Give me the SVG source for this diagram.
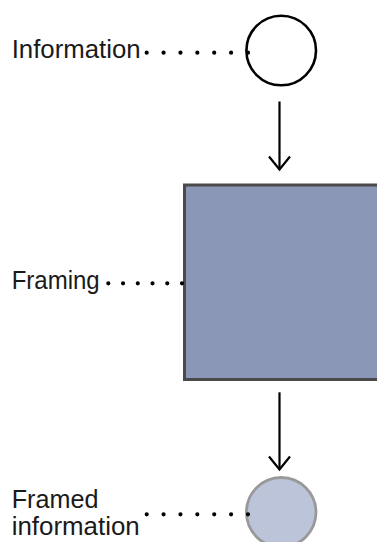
<svg xmlns="http://www.w3.org/2000/svg" width="377" height="542" viewBox="0 0 377 542">
  <style>
    .label { font-family: "Liberation Sans", Arial, sans-serif; font-size: 25px; fill: #1a1a1a; }
    .leader { fill: none; stroke: #000; stroke-width: 4.2; stroke-linecap: round; }
    .flow { fill: none; stroke: #000; stroke-width: 2.2; }
  </style>
  <defs>
    <marker id="vhead" markerUnits="userSpaceOnUse" markerWidth="30" markerHeight="30" refX="0" refY="0" viewBox="-15 -15 30 30" orient="auto" overflow="visible">
      <path d="M-13,-10.5 L0,0 L-13,10.5" fill="none" stroke="#000" stroke-width="2.2" stroke-linejoin="miter"/>
    </marker>
  </defs>

  <rect width="377" height="542" fill="#fff"/>

  <g id="information">
    <circle cx="281.2" cy="50.5" r="34.8" fill="#fff" stroke="#000" stroke-width="2.6"/>
    <text class="label" x="11.7" y="58.3" textLength="129" lengthAdjust="spacingAndGlyphs">Information</text>
  </g>

  <g id="framing">
    <rect x="184.5" y="185" width="200" height="194.5" fill="#8b97b6" stroke="#4a4a4a" stroke-width="3"/>
    <text class="label" x="11.7" y="288.5" textLength="88" lengthAdjust="spacingAndGlyphs">Framing</text>
  </g>

  <g id="framed-information">
    <circle cx="281.2" cy="512.3" r="34.8" fill="#bcc4da" stroke="#999" stroke-width="2.8"/>
    <text class="label" x="11.7" y="508.3" textLength="86.7" lengthAdjust="spacingAndGlyphs">Framed</text>
    <text class="label" x="11.7" y="535" textLength="128" lengthAdjust="spacingAndGlyphs">information</text>
  </g>

  <!-- connectors: dotted leaders and flow arrows, drawn on top so end dots sit on the node outlines -->
  <g id="connectors">
    <path class="leader" d="M146.7,52.7 H248.4" stroke-dasharray="0 16.88"/>
    <path class="leader" d="M108.3,283.3 H182.3" stroke-dasharray="0 14.74"/>
    <path class="leader" d="M146.7,514.3 H248.4" stroke-dasharray="0 16.88"/>
    <path class="flow" d="M279.5,101.5 V169.5" marker-end="url(#vhead)"/>
    <path class="flow" d="M279.5,392.3 V469.5" marker-end="url(#vhead)"/>
  </g>
</svg>
